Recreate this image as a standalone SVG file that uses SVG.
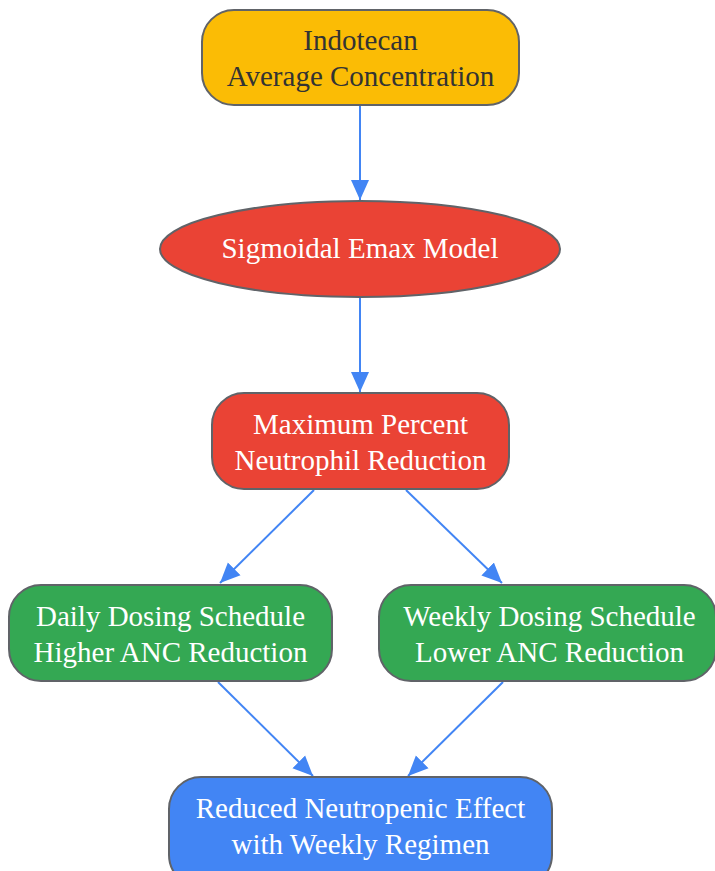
<svg xmlns="http://www.w3.org/2000/svg" width="715" height="871" viewBox="0 0 715 871">
<defs>
<style>
.n{stroke:#606368;stroke-width:2}
.t{font-family:"Liberation Serif","Times New Roman",serif;font-size:29px;text-anchor:middle;dominant-baseline:central;fill:#fff}
.e{stroke:#4285F4;stroke-width:2;fill:none;marker-end:url(#a)}
</style>
<marker id="a" markerUnits="userSpaceOnUse" markerWidth="22" markerHeight="20" refX="20" refY="10" orient="auto"><path d="M0,1 L20,10 L0,19 Z" fill="#4285F4"/></marker>
</defs>
<rect width="715" height="871" fill="#fff"/>
<g id="edges">
<path class="e" d="M360,106 L360,200"/>
<path class="e" d="M360,298 L360,392"/>
<path class="e" d="M314,490 L220,583"/>
<path class="e" d="M406,490 L502,583"/>
<path class="e" d="M218,682 L313,776"/>
<path class="e" d="M503,682 L408,776"/>
</g>
<g id="indotecan">
<rect class="n" x="202" y="10" width="317" height="95" rx="32" fill="#FBBC05"/>
<text class="t" x="360.5" y="40" style="fill:#333">Indotecan</text>
<text class="t" x="360.5" y="76" style="fill:#333">Average Concentration</text>
</g>
<g id="emax">
<ellipse class="n" cx="360" cy="249" rx="200" ry="48" fill="#EA4335"/>
<text class="t" x="360" y="248">Sigmoidal Emax Model</text>
</g>
<g id="maxred">
<rect class="n" x="212" y="393" width="297" height="96" rx="32" fill="#EA4335"/>
<text class="t" x="360.5" y="424">Maximum Percent</text>
<text class="t" x="360.5" y="460">Neutrophil Reduction</text>
</g>
<g id="daily">
<rect class="n" x="9" y="585" width="323" height="96" rx="32" fill="#34A853"/>
<text class="t" x="170.5" y="616">Daily Dosing Schedule</text>
<text class="t" x="170.5" y="652">Higher ANC Reduction</text>
</g>
<g id="weekly">
<rect class="n" x="379" y="585" width="337" height="96" rx="32" fill="#34A853"/>
<text class="t" x="549.5" y="616">Weekly Dosing Schedule</text>
<text class="t" x="549.5" y="652">Lower ANC Reduction</text>
</g>
<g id="reduced">
<rect class="n" x="169" y="777" width="383" height="110" rx="32" fill="#4285F4"/>
<text class="t" x="360.5" y="808">Reduced Neutropenic Effect</text>
<text class="t" x="360.5" y="844">with Weekly Regimen</text>
</g>
</svg>
